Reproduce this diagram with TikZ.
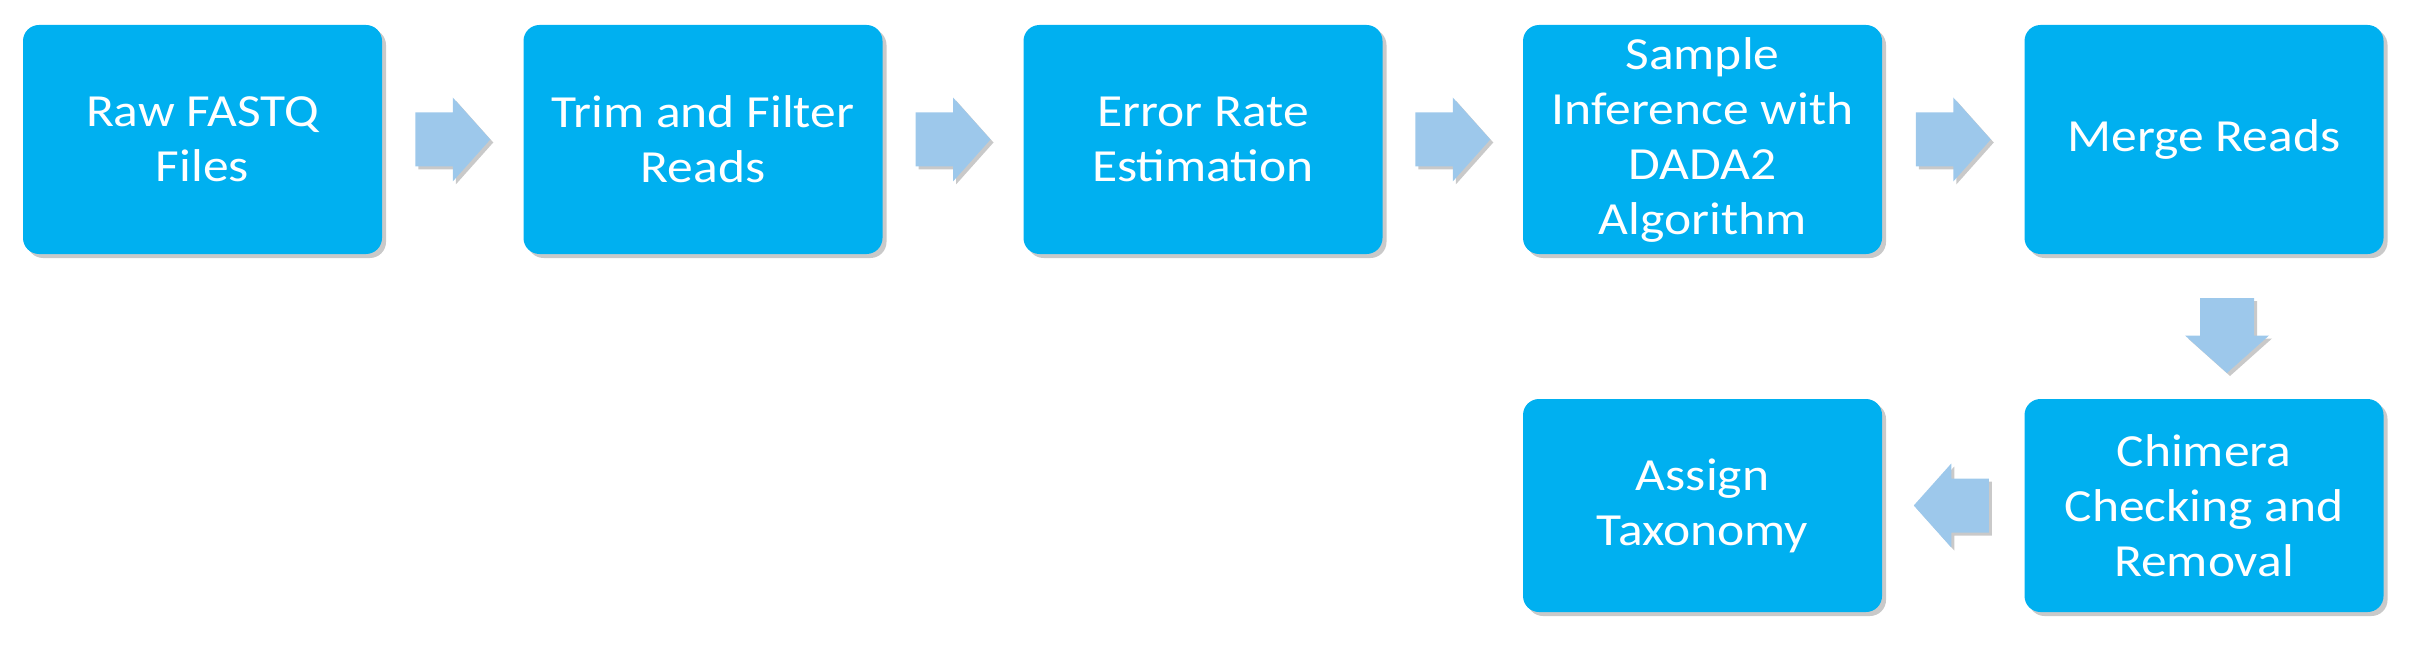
\documentclass[tikz,border=0pt]{standalone}
\usepackage{fontspec}
\setmainfont{Carlito}[FakeStretch=1.12]
\usetikzlibrary{calc,shadows}
\definecolor{boxblue}{RGB}{0,176,240}
\definecolor{arrowblue}{RGB}{157,200,235}
\tikzset{
  stepbox/.style={draw=none, fill=boxblue, rounded corners=8pt, inner sep=0pt,
    minimum width=179.5pt, text=white, align=center,
    font=\fontsize{23pt}{27.5pt}\selectfont,
    drop shadow={shadow xshift=2pt, shadow yshift=-2pt, opacity=0.3, fill=black!70}},
  toprow/.style={stepbox, minimum height=114.5pt},
  botrow/.style={stepbox, minimum height=106.5pt},
  arrowfill/.style={fill=arrowblue,
    drop shadow={shadow xshift=1.5pt, shadow yshift=-1.5pt, opacity=0.3, fill=black!70}},
  pics/blockarrow/.style={code={
    \fill[arrowfill] (-37.5,-27) -- (0,-27) -- (0,-42) -- (37.5,0) -- (0,42) -- (0,27) -- (-37.5,27) -- cycle;
  }}
}
\begin{document}
\begin{tikzpicture}[x=0.5pt,y=-0.5pt]
\useasboundingbox (0,0) rectangle (2412,652);
\node[toprow] (n1) at (202.5,139.5) {Raw FASTQ\\Files};
\node[toprow] (n2) at (703,139.5) {Trim and Filter\\Reads};
\node[toprow] (n3) at (1203,139.5) {Error Rate\\Estimation};
\node[toprow] (n4) at (1702.5,139.5) {Sample\\Inference with\\DADA2\\Algorithm};
\node[toprow] (n5) at (2204,139.5) {Merge Reads};
\node[botrow] (n6) at (1702.5,505.5) {Assign\\Taxonomy};
\node[botrow] (n7) at (2204,505.5) {Chimera\\Checking and\\Removal};
\coordinate (a12) at ($(n1.east)!0.5!(n2.west)$);
\coordinate (a23) at ($(n2.east)!0.5!(n3.west)$);
\coordinate (a34) at ($(n3.east)!0.5!(n4.west)$);
\coordinate (a45) at ($(n4.east)!0.5!(n5.west)$);
\coordinate (a57) at ($(n5.south)!0.5!(n7.north)+(23,9)$);
\coordinate (a76) at ($(n7.west)!0.5!(n6.east)+(-2,0)$);
\pic at (a12) {blockarrow};
\pic at (a23) {blockarrow};
\pic at (a34) {blockarrow};
\pic at (a45) {blockarrow};
\pic[rotate=-90] at (a57) {blockarrow};
\pic[xscale=-1] at (a76) {blockarrow};
\end{tikzpicture}
\end{document}
